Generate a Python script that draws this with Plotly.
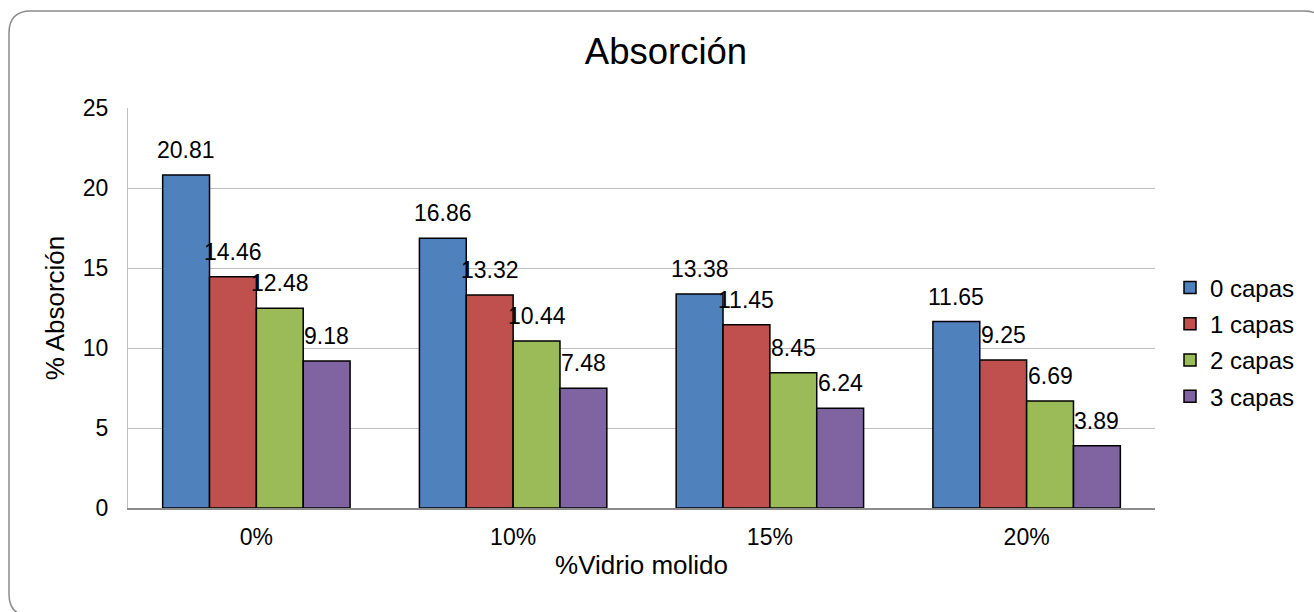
import plotly.graph_objects as go

# Data
categories = ["0%", "10%", "15%", "20%"]
series_names = ["0 capas", "1 capas", "2 capas", "3 capas"]
capas_0 = [20.81, 16.86, 13.38, 11.65]
capas_1 = [14.46, 13.32, 11.45, 9.25]
capas_2 = [12.48, 10.44, 8.45, 6.69]
capas_3 = [9.18, 7.48, 6.24, 3.89]
y_ticks = [0, 5, 10, 15, 20, 25]

series_values = [capas_0, capas_1, capas_2, capas_3]
colors = ["#4F81BD", "#C0504D", "#9BBB59", "#8064A2"]

FONT = "Liberation Sans, Arial, sans-serif"
W, H = 1314, 612
ML, MR, MT, MB = 128, 159, 108, 104
BARGAP = 0.27

fig = go.Figure()
for name, vals, col in zip(series_names, series_values, colors):
    fig.add_trace(go.Bar(
        x=categories, y=vals, name=name, legendgroup=name,
        marker=dict(color=col, line=dict(color="#000000", width=1.5)),
        hoverinfo="x+y+name",
    ))

# value labels above each bar, centred on its bar slot
group_w = 1 - BARGAP
bar_w = group_w / len(series_values)
annotations = []
for j, vals in enumerate(series_values):
    for i, v in enumerate(vals):
        annotations.append(dict(
            x=i - group_w / 2 + (j + 0.5) * bar_w, y=v, xref="x", yref="y",
            text=f"{v:.2f}", showarrow=False, yanchor="bottom", xanchor="center",
            yshift=10, font=dict(family=FONT, size=23, color="#000000"),
        ))

# rounded chart frame, expressed in paper units
pw, ph = W - ML - MR, H - MT - MB
def px(x):
    return (x - ML) / pw
def py(y):
    return (H - MB - y) / ph

L, T, R, B, r = 9, 11, 1326, 616, 22
frame = (
    f"M {px(L)},{py(T + r)} Q {px(L)},{py(T)} {px(L + r)},{py(T)} "
    f"L {px(R - r)},{py(T)} Q {px(R)},{py(T)} {px(R)},{py(T + r)} "
    f"L {px(R)},{py(B - r)} Q {px(R)},{py(B)} {px(R - r)},{py(B)} "
    f"L {px(L + r)},{py(B)} Q {px(L)},{py(B)} {px(L)},{py(B - r)} Z"
)

fig.update_layout(
    width=W, height=H,
    margin=dict(l=ML, r=MR, t=MT, b=MB, autoexpand=False),
    paper_bgcolor="#FFFFFF", plot_bgcolor="#FFFFFF",
    font=dict(family=FONT, size=23, color="#000000"),
    barmode="group", bargap=BARGAP, bargroupgap=0,
    title=dict(text="Absorción", x=666 / W, xref="container", xanchor="center",
               y=1 - 51 / H, yref="container", yanchor="middle",
               font=dict(family=FONT, size=36.5, color="#000000")),
    xaxis=dict(
        showgrid=False, showline=True, linecolor="#8C8C8C", linewidth=1.5,
        ticks="", tickfont=dict(size=23), ticklabelstandoff=8,
        title=dict(text="%Vidrio molido", font=dict(size=26), standoff=6),
    ),
    yaxis=dict(
        range=[0, 25], tickvals=y_ticks, showgrid=True, gridcolor="#BFBFBF",
        gridwidth=1, zeroline=False, showline=True, linecolor="#BFBFBF",
        linewidth=1, ticks="", tickfont=dict(size=23), ticklabelstandoff=14,
        title=dict(text="% Absorción", font=dict(size=26), standoff=10),
    ),
    legend=dict(
        x=px(1170), y=py(342), xanchor="left", yanchor="middle",
        font=dict(family=FONT, size=24), tracegroupgap=2,
        bgcolor="rgba(0,0,0,0)",
    ),
    annotations=annotations,
    shapes=[dict(type="path", path=frame, xref="paper", yref="paper",
                 line=dict(color="#8C8C8C", width=1.5), layer="below")],
)

fig.write_html("out.html")
